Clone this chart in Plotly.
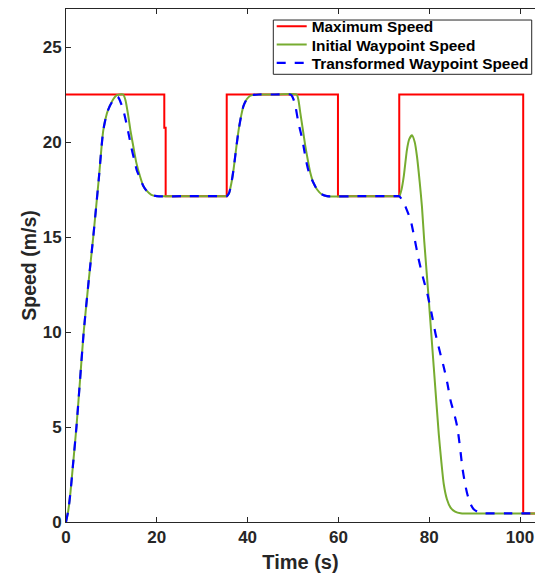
import plotly.graph_objects as go

# ---- data ----
max_t = [0, 21.65, 21.65, 21.95, 21.95, 35.4, 35.4, 59.9, 59.9, 73.4, 73.4, 100.7, 100.7, 103.3]
max_v = [22.5, 22.5, 20.75, 20.75, 17.14, 17.14, 22.5, 22.5, 17.14, 17.14, 22.5, 22.5, 0.45, 0.45]

init_t = [0, 0.5, 1.0, 1.5, 2.3, 3.1, 3.9, 5.0, 6.0, 7.2, 8.2, 9.0, 9.65, 10.4, 11.1, 11.8, 12.6,
          13.1, 13.7, 14.2, 14.8, 15.5, 16.3, 17.0, 17.7, 18.8, 20.0, 27.0, 34.8,
          35.4, 35.9, 36.4, 36.9, 37.5, 38.0, 38.6, 39.1, 39.8, 40.5, 41.3, 42.5, 46.5,
          50.8, 51.2, 51.6, 52.2, 52.7, 53.3, 53.8, 54.5, 55.3, 56.3, 57.5, 65.0, 72.8,
          73.4, 73.9, 74.4, 75.1, 75.6, 76.2, 76.8, 77.3, 77.9, 78.4, 78.9, 79.9, 81.0,
          82.1, 82.7, 83.2, 83.9, 84.7, 85.7, 86.9, 95.0, 103.3]
init_v = [0, 0.6, 1.6, 2.9, 5.0, 7.5, 10.0, 12.7, 15.0, 18.0, 20.6, 21.5, 21.9, 22.25, 22.45, 22.5, 22.5,
          22.2, 21.4, 20.6, 19.8, 18.9, 18.2, 17.7, 17.45, 17.22, 17.15, 17.15, 17.15,
          17.15, 17.3, 17.8, 18.55, 19.7, 20.6, 21.4, 21.9, 22.25, 22.42, 22.48, 22.5, 22.5,
          22.5, 22.2, 21.55, 20.6, 19.8, 19.0, 18.4, 17.85, 17.5, 17.25, 17.15, 17.15, 17.15,
          17.15, 17.5, 18.2, 19.6, 20.15, 20.35, 20.0, 19.25, 17.9, 16.6, 14.8, 11.7, 8.16,
          4.64, 3.1, 2.0, 1.2, 0.76, 0.55, 0.46, 0.45, 0.45]

trans_t = [0, 0.5, 1.0, 1.5, 2.3, 3.1, 3.9, 5.0, 6.0, 7.2, 8.2, 9.0, 9.65, 10.4, 11.0, 11.5, 11.85,
           12.6, 13.3, 13.9, 14.4, 15.0, 15.6, 16.3, 17.0, 17.7, 18.8, 20.0, 27.0, 34.8,
           35.4, 35.9, 36.4, 36.9, 37.5, 38.0, 38.6, 39.1, 39.8, 40.5, 41.3, 42.5, 46.0,
           49.4, 49.7, 50.1, 50.6, 51.2, 51.8, 52.3, 52.9, 53.5, 54.5, 55.3, 56.3, 57.5, 65.0, 72.8,
           73.4, 73.9, 74.4, 75.1, 75.9, 76.7, 77.7, 78.6, 79.6, 80.5, 81.4, 82.3, 83.2,
           84.0, 84.7, 85.5, 86.2, 86.8, 87.3, 87.9, 88.4, 89.1, 89.8, 90.8, 92.1, 97.0, 103.3]
trans_v = [0, 0.6, 1.6, 2.9, 5.0, 7.5, 10.0, 12.7, 15.0, 18.0, 20.6, 21.5, 21.9, 22.2, 22.4, 22.35, 22.2,
           21.7, 21.0, 20.3, 19.7, 19.1, 18.5, 18.1, 17.7, 17.45, 17.22, 17.15, 17.15, 17.15,
           17.15, 17.3, 17.8, 18.55, 19.7, 20.6, 21.4, 21.9, 22.25, 22.42, 22.48, 22.5, 22.5,
           22.5, 22.45, 22.25, 21.8, 21.0, 20.4, 19.8, 19.0, 18.4, 17.85, 17.5, 17.25, 17.15, 17.15, 17.15,
           17.15, 17.0, 16.8, 16.4, 15.9, 15.0, 13.8, 12.9, 12.0, 11.0, 9.9, 9.0, 8.16,
           7.3, 6.4, 5.7, 4.98, 3.9, 2.87, 2.0, 1.46, 0.95, 0.67, 0.52, 0.46, 0.45, 0.45]

x_ticks = [0, 20, 40, 60, 80, 100]
y_ticks = [0, 5, 10, 15, 20, 25]

FONT = "Liberation Sans, Arial, sans-serif"
INK = "#262626"

fig = go.Figure()
fig.add_trace(go.Scatter(x=max_t, y=max_v, mode="lines", name="Maximum Speed", legend="legend",
                         showlegend=True, line=dict(color="#FF0000", width=2)))
fig.add_trace(go.Scatter(x=init_t, y=init_v, mode="lines", name="Initial Waypoint Speed", legend="legend2",
                         showlegend=True,
                         line=dict(color="#77AC30", width=2, shape="spline", smoothing=0.6)))
fig.add_trace(go.Scatter(x=trans_t, y=trans_v, mode="lines", name="Transformed Waypoint Speed",
                         legend="legend3", showlegend=True,
                         line=dict(color="#0000FF", width=2.2, dash="dash", shape="spline", smoothing=0.6)))

leg_font = dict(family=FONT, size=15.4, color="black", weight="bold")
def leg(y):
    return dict(x=0.4386, y=y, xanchor="left", yanchor="middle", bgcolor="rgba(0,0,0,0)",
                borderwidth=0, font=leg_font, itemwidth=30)

fig.update_layout(
    width=535, height=575,
    margin=dict(l=66, r=0, t=9, b=53),
    showlegend=True,
    paper_bgcolor="white", plot_bgcolor="white",
    font=dict(family=FONT, color=INK),
    legend=leg(0.9655), legend2=leg(0.9298), legend3=leg(0.8942),
    shapes=[dict(type="rect", xref="paper", yref="paper", x0=0.442, x1=0.993, y0=0.8727, y1=0.9785,
                 line=dict(color=INK, width=1), fillcolor="rgba(0,0,0,0)", layer="above")],
    xaxis=dict(range=[0, 103.3], tickvals=x_ticks, ticktext=[str(v) for v in x_ticks],
               showgrid=False, zeroline=False, showline=True, linecolor=INK, linewidth=1,
               mirror="ticks", ticks="inside", ticklen=5, tickcolor=INK,
               tickfont=dict(family=FONT, size=17, color=INK, weight="bold"),
               title=dict(text="Time (s)", font=dict(family=FONT, size=20, color=INK, weight="bold"),
                          standoff=8)),
    yaxis=dict(range=[0, 27], tickvals=y_ticks, ticktext=[str(v) for v in y_ticks],
               showgrid=False, zeroline=False, showline=True, linecolor=INK, linewidth=1,
               mirror=False, ticks="inside", ticklen=5, tickcolor=INK,
               tickfont=dict(family=FONT, size=17, color=INK, weight="bold"),
               title=dict(text="Speed (m/s)", font=dict(family=FONT, size=19.5, color=INK, weight="bold"),
                          standoff=0)),
)

# remove the default 8px page margin so the 535x575 figure fills the window exactly
fig.write_html("out.html", config={"displayModeBar": False},
               post_script="document.body.style.margin='0';")
